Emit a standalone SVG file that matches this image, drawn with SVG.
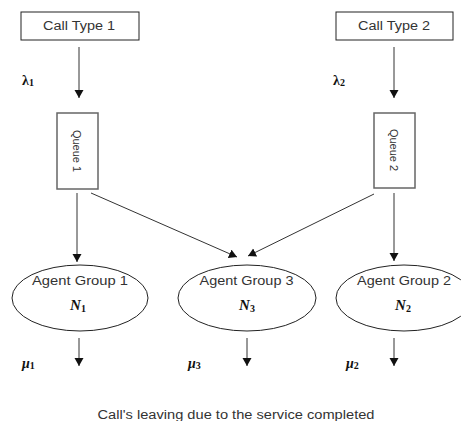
<svg xmlns="http://www.w3.org/2000/svg" width="461" height="421" viewBox="0 0 461 421">
<style>
.box{fill:#fff;stroke:#222;stroke-width:1}
.q{fill:#fff;stroke:#666;stroke-width:1.5}
.ell{fill:#fff;stroke:#222;stroke-width:1}
.lbl{font-family:"Liberation Sans",Arial,sans-serif;font-size:12px;fill:#333;text-anchor:middle}
.ql{font-family:"Liberation Sans",Arial,sans-serif;font-size:11px;fill:#333;text-anchor:middle}
.m{font-family:"Liberation Serif","Times New Roman",serif;font-size:14px;fill:#111;font-weight:bold}
.mi{font-family:"Liberation Serif","Times New Roman",serif;font-size:15px;fill:#111;font-weight:bold;font-style:italic;text-anchor:middle}
.sub{font-size:10px;font-style:normal}
.c line{stroke:#333;stroke-width:1;marker-end:url(#ah)}
</style>
<defs>
<marker id="ah" markerUnits="userSpaceOnUse" markerWidth="10" markerHeight="10" refX="8" refY="4.5" orient="auto">
<path d="M0,0 L8,4.5 L0,9 Z" fill="#111"/>
</marker>
</defs>
<g id="call1"><rect class="box" x="21" y="12" width="118" height="28"/><text class="lbl" x="79" y="30" textLength="72" lengthAdjust="spacingAndGlyphs">Call Type 1</text></g>
<g id="call2"><rect class="box" x="336" y="12" width="117" height="28"/><text class="lbl" x="394" y="30" textLength="72" lengthAdjust="spacingAndGlyphs">Call Type 2</text></g>
<g id="queue1"><rect class="q" x="57" y="113" width="41" height="76"/><text class="ql" transform="translate(77,151) rotate(90)" x="0" y="4">Queue 1</text></g>
<g id="queue2"><rect class="q" x="374" y="113" width="41" height="75"/><text class="ql" transform="translate(394,150) rotate(90)" x="0" y="4">Queue 2</text></g>
<g id="agent1"><ellipse class="ell" cx="80" cy="298" rx="68" ry="33"/><text class="lbl" x="80" y="285" textLength="96" lengthAdjust="spacingAndGlyphs">Agent Group 1</text><text class="mi" x="78" y="310">N<tspan class="sub" dy="2">1</tspan></text></g>
<g id="agent3"><ellipse class="ell" cx="247" cy="298" rx="69" ry="33"/><text class="lbl" x="246.5" y="285" textLength="94" lengthAdjust="spacingAndGlyphs">Agent Group 3</text><text class="mi" x="247" y="310">N<tspan class="sub" dy="2">3</tspan></text></g>
<g id="agent2"><ellipse class="ell" cx="404" cy="298" rx="68" ry="33"/><text class="lbl" x="404" y="285" textLength="94" lengthAdjust="spacingAndGlyphs">Agent Group 2</text><text class="mi" x="403" y="310">N<tspan class="sub" dy="2">2</tspan></text></g>
<g class="c" id="connectors">
<line x1="79" y1="47" x2="79" y2="98"/>
<line x1="394" y1="47" x2="394" y2="98"/>
<line x1="77" y1="193" x2="77" y2="262"/>
<line x1="91" y1="193" x2="237" y2="257"/>
<line x1="374" y1="194" x2="248" y2="256"/>
<line x1="394" y1="193" x2="394" y2="261"/>
<line x1="79" y1="338" x2="79" y2="366"/>
<line x1="247" y1="338" x2="247" y2="366"/>
<line x1="394" y1="338" x2="394" y2="366"/>
</g>
<g id="labels">
<text class="m" x="22" y="85">λ<tspan class="sub" dy="1">1</tspan></text>
<text class="m" x="333" y="85">λ<tspan class="sub" dy="1">2</tspan></text>
<text class="m" x="22" y="368" font-style="italic">μ<tspan class="sub" dy="1">1</tspan></text>
<text class="m" x="188" y="368" font-style="italic">μ<tspan class="sub" dy="1">3</tspan></text>
<text class="m" x="346" y="368" font-style="italic">μ<tspan class="sub" dy="1">2</tspan></text>
<text class="lbl" x="236" y="419" font-size="11" textLength="277" lengthAdjust="spacingAndGlyphs">Call's leaving due to the service completed</text>
</g>
</svg>
